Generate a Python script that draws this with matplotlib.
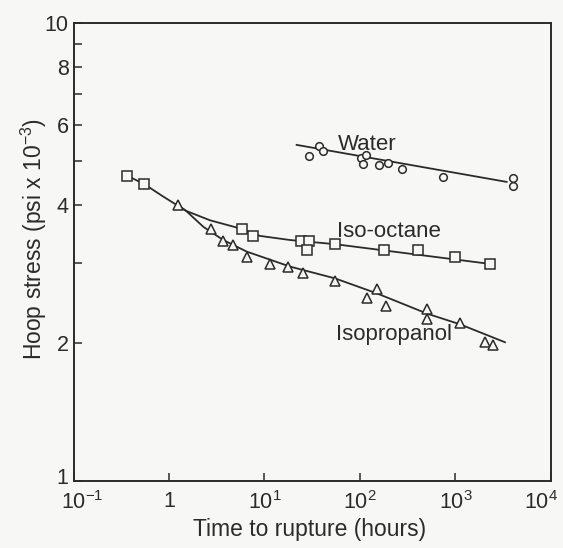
import matplotlib
matplotlib.use("Agg")
from matplotlib import pyplot as plt
from matplotlib.ticker import FixedLocator, NullFormatter
from matplotlib.transforms import ScaledTranslation

plt.rcParams['font.family'] = ['Liberation Sans', 'DejaVu Sans']
plt.rcParams['mathtext.fontset'] = 'custom'
plt.rcParams['mathtext.rm'] = 'Liberation Sans'
plt.rcParams['mathtext.it'] = 'Liberation Sans'

# water (circles)
water_time = [29.5, 37.5, 41.3, 102, 116, 107, 159, 195, 277, 747, 4035, 4035]
water_stress = [5.13, 5.40, 5.26, 5.07, 5.15, 4.92, 4.90, 4.95, 4.79, 4.62, 4.60, 4.41]
water_fit_time = [21.7, 3435]
water_fit_stress = [5.42, 4.50]

# iso-octane (squares)
octane_time = [0.366, 0.551, 5.86, 7.63, 23.9, 29.5, 28.0, 55, 178, 408, 988, 2297]
octane_stress = [4.64, 4.45, 3.56, 3.42, 3.35, 3.35, 3.19, 3.29, 3.19, 3.19, 3.08, 2.98]
octane_fit_time = [0.366, 0.551, 0.87, 1.51, 2.69, 5.86, 8.97, 18.5, 55, 2297]
octane_fit_stress = [4.64, 4.45, 4.18, 3.89, 3.71, 3.55, 3.43, 3.36, 3.29, 2.98]

# isopropanol (triangles)
propanol_time = [1.23, 2.73, 3.70, 4.65, 6.51, 11.4, 17.8, 25.1, 55, 150, 119, 187, 507, 507,
                 1114, 2037, 2490]
propanol_stress = [4.01, 3.55, 3.34, 3.27, 3.09, 2.98, 2.93, 2.85, 2.74, 2.63, 2.51, 2.41, 2.38,
                   2.26, 2.21, 2.01, 1.98]
propanol_fit_time = [1.23, 1.51, 2.29, 3.70, 6.51, 18.5, 55, 150, 507, 1114, 3300]
propanol_fit_stress = [4.01, 3.89, 3.59, 3.36, 3.17, 2.94, 2.77, 2.57, 2.32, 2.20, 2.01]

x_ticks = [0.1, 1, 10, 100, 1000, 10000]
x_labels = ['10$^{-1}$', '1', '10$^{1}$', '10$^{2}$', '10$^{3}$', '10$^{4}$']
y_ticks = [1, 2, 4, 6, 8, 10]
y_minor = [3, 5, 7, 9]

ink = '#2b2b2b'
paper = '#f7f7f5'


def shift(label, fig, dx, dy):
    label.set_transform(label.get_transform() + ScaledTranslation(dx / 100, dy / 100, fig.dpi_scale_trans))


def chart():
    fig = plt.figure(figsize=(5.63, 5.48), dpi=100, facecolor=paper)
    ax = fig.add_axes([0.1306, 0.122, 0.848, 0.836])
    ax.set_facecolor(paper)
    ax.set_xscale('log')
    ax.set_yscale('log')
    ax.set_xlim(0.1, 10000)
    ax.set_ylim(1, 10)

    line_kw = dict(color=ink, lw=1.3)
    mark_kw = dict(ls='none', mfc=paper, mec=ink, mew=1.1)
    ax.plot(water_fit_time, water_fit_stress, **line_kw)
    ax.plot(octane_fit_time, octane_fit_stress, **line_kw)
    ax.plot(propanol_fit_time, propanol_fit_stress, **line_kw)
    ax.plot(water_time, water_stress, marker='o', ms=5.5, **mark_kw)
    ax.plot(octane_time, octane_stress, marker='s', ms=6.5, **mark_kw)
    ax.plot(propanol_time, propanol_stress, marker='^', ms=7, **mark_kw)

    ax.text(59, 5.42, 'Water', fontsize=16, va='center', color=ink)
    ax.text(57, 3.51, 'Iso-octane', fontsize=16, va='center', color=ink)
    ax.text(56, 2.09, 'Isopropanol', fontsize=16, va='center', color=ink)

    ax.xaxis.set_major_locator(FixedLocator(x_ticks))
    ax.xaxis.set_minor_locator(FixedLocator([]))
    ax.set_xticklabels(x_labels)
    ax.yaxis.set_major_locator(FixedLocator(y_ticks))
    ax.yaxis.set_minor_locator(FixedLocator(y_minor))
    ax.yaxis.set_minor_formatter(NullFormatter())
    ax.set_yticklabels([str(v) for v in y_ticks])

    ax.tick_params(which='both', direction='in', length=6, width=1.1, colors=ink,
                   labelsize=15.5, top=False, right=False)
    ax.tick_params(axis='x', pad=7)
    for sp in ax.spines.values():
        sp.set_linewidth(1.4)
        sp.set_color(ink)

    xl = ax.get_xticklabels()
    shift(xl[0], fig, 9, 0)
    shift(xl[-1], fig, -10, 0)
    shift(ax.get_yticklabels()[0], fig, 0, 5)

    ax.set_xlabel('Time to rupture (hours)', fontsize=16.5, color=ink)
    ax.set_ylabel('Hoop stress (psi x 10$^{-3}$)', fontsize=16.5, color=ink)
    ax.xaxis.set_label_coords(0.495, -0.08)
    ax.xaxis.label.set_va('top')
    ax.yaxis.set_label_coords(-0.052, 0.528)
    fig.savefig('out.png', dpi=100, facecolor=fig.get_facecolor())


if __name__ == '__main__':
    chart()
